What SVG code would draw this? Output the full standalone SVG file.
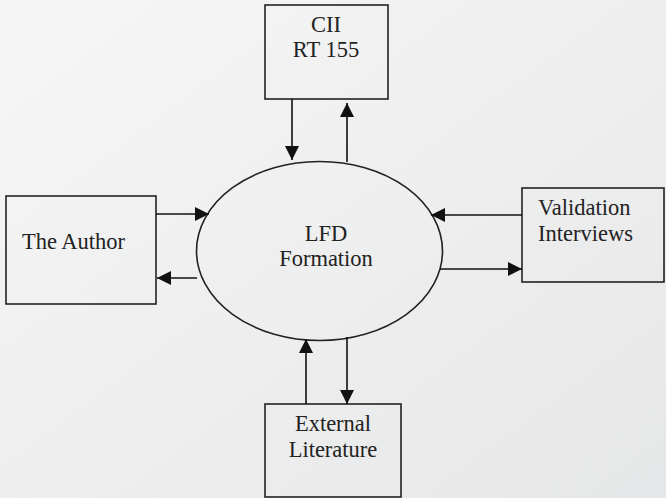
<svg xmlns="http://www.w3.org/2000/svg" width="666" height="498" viewBox="0 0 666 498">
<defs>
<linearGradient id="bg" x1="0" y1="0" x2="1" y2="1">
<stop offset="0" stop-color="#f6f6f6"/>
<stop offset="1" stop-color="#e6e7e8"/>
</linearGradient>
<marker id="ah" markerWidth="15" markerHeight="14" refX="14" refY="7" orient="auto" markerUnits="userSpaceOnUse">
<path d="M0,0 L14,7 L0,14 Z" fill="#111"/>
</marker>
<style>
.box{fill:none;stroke:#222;stroke-width:1.6}
.lbl{font-family:"Liberation Serif","Times New Roman",serif;font-size:22.5px;fill:#222}
.c line{stroke:#111;stroke-width:1.6;marker-end:url(#ah)}
</style>
</defs>
<rect width="666" height="498" fill="url(#bg)"/>
<g id="cii">
<rect class="box" x="265" y="5" width="123" height="94"/>
<text class="lbl" x="326" y="32" text-anchor="middle">CII</text>
<text class="lbl" x="326" y="57" text-anchor="middle">RT 155</text>
</g>
<g id="lfd">
<ellipse class="box" cx="319.5" cy="251" rx="123" ry="89.5"/>
<text class="lbl" x="326" y="241" text-anchor="middle">LFD</text>
<text class="lbl" x="326" y="266" text-anchor="middle">Formation</text>
</g>
<g id="author">
<rect class="box" x="6" y="196" width="150" height="108"/>
<text class="lbl" x="22" y="249">The Author</text>
</g>
<g id="validation">
<rect class="box" x="522" y="188" width="142" height="94"/>
<text class="lbl" x="538" y="215">Validation</text>
<text class="lbl" x="538" y="241">Interviews</text>
</g>
<g id="literature">
<rect class="box" x="265" y="404" width="136" height="93"/>
<text class="lbl" x="333" y="431" text-anchor="middle">External</text>
<text class="lbl" x="333" y="457" text-anchor="middle">Literature</text>
</g>
<g id="connectors" class="c">
<line x1="292" y1="99" x2="292" y2="160"/>
<line x1="347" y1="162" x2="347" y2="103"/>
<line x1="156" y1="214" x2="209" y2="214"/>
<line x1="197" y1="278" x2="157" y2="278"/>
<line x1="522" y1="215" x2="431" y2="215"/>
<line x1="440" y1="269" x2="522" y2="269"/>
<line x1="306" y1="404" x2="306" y2="339"/>
<line x1="347" y1="337" x2="347" y2="404"/>
</g>
</svg>
